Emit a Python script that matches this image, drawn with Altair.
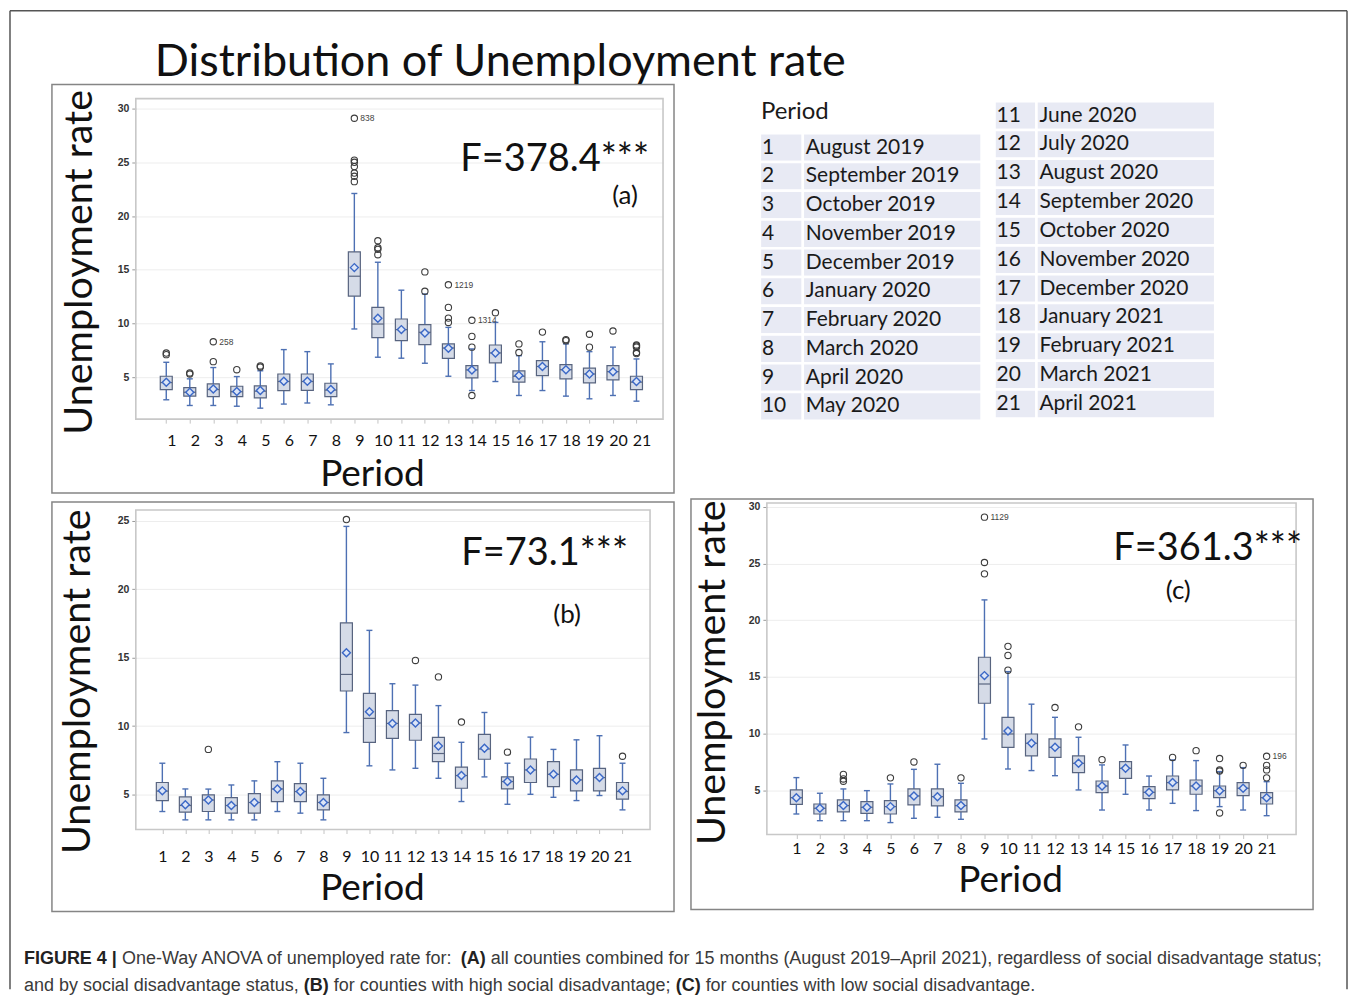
import altair as alt
import pandas as pd

# ---------------- data ----------------
periods = list(range(1, 22))
month_names = ["August 2019", "September 2019", "October 2019", "November 2019",
               "December 2019", "January 2020", "February 2020", "March 2020",
               "April 2020", "May 2020", "June 2020", "July 2020", "August 2020",
               "September 2020", "October 2020", "November 2020", "December 2020",
               "January 2021", "February 2021", "March 2021", "April 2021"]

# Panel (a): all counties
a_wlo = [2.9, 2.37, 2.37, 2.3, 2.12, 2.5, 2.6, 2.43, 9.49, 6.86, 6.77, 6.3, 5.09, 3.76, 4.6, 3.3, 3.76, 3.24, 2.99, 3.3, 2.77]
a_q1 = [3.85, 3.24, 3.2, 3.2, 3.08, 3.76, 3.77, 3.2, 12.55, 8.68, 8.4, 8.03, 6.76, 4.94, 6.33, 4.54, 5.15, 4.85, 4.47, 4.75, 3.85]
a_med = [4.5, 3.6, 3.85, 3.65, 3.7, 4.6, 4.6, 3.8, 14.4, 9.95, 9.43, 9.18, 7.72, 5.68, 7.26, 5.09, 6.0, 5.7, 5.3, 5.52, 4.54]
a_q3 = [5.09, 4.04, 4.38, 4.16, 4.2, 5.3, 5.3, 4.44, 16.67, 11.5, 10.42, 9.9, 8.1, 6.08, 8.0, 5.59, 6.55, 6.18, 5.84, 6.08, 5.09]
a_whi = [6.39, 4.85, 5.9, 5.06, 5.6, 7.57, 7.38, 6.24, 22.1, 15.7, 13.1, 12.74, 9.64, 7.63, 10.1, 7.0, 8.3, 8.1, 7.38, 7.8, 6.7]
a_mean = [4.54, 3.6, 3.9, 3.67, 3.76, 4.63, 4.63, 3.85, 15.2, 10.48, 9.43, 9.12, 7.7, 5.68, 7.26, 5.15, 6.0, 5.7, 5.3, 5.5, 4.6]
a_out_period = [1, 1, 2, 2, 3, 3, 4, 5, 5, 9, 9, 9, 9, 9, 9, 9, 10, 10, 10, 10, 12, 12,
                13, 13, 13, 13, 14, 14, 14, 14, 15, 16, 16, 17, 18, 18, 19, 19, 20,
                21, 21, 21, 21, 21]
a_out_value = [7.1, 7.25, 5.3, 5.4, 6.45, 8.3, 5.7, 5.95, 6.05, 23.2, 23.7, 24.0, 24.6, 25.0, 25.2, 29.1,
               16.4, 16.9, 17.05, 17.7, 13.0, 14.8, 10.1, 10.5, 11.5, 13.6, 7.8, 8.8, 10.3, 3.3,
               11.0, 7.3, 8.1, 9.2, 8.4, 8.5, 7.8, 9.0, 9.3, 7.2, 7.3, 7.8, 7.9, 8.0]
a_lab_period = [9, 3, 13, 14]
a_lab_value = [29.1, 8.3, 13.6, 10.3]
a_lab_text = ["838", "258", "1219", "1314"]

# Panel (b): high social disadvantage
b_wlo = [3.76, 3.15, 3.15, 3.15, 3.15, 3.76, 3.64, 3.15, 9.53, 7.1, 6.8, 6.92, 6.19, 4.49, 6.29, 4.29, 5.02, 4.8, 4.56, 4.93, 3.88]
b_q1 = [4.56, 3.71, 3.76, 3.64, 3.64, 4.49, 4.49, 3.88, 12.57, 8.82, 9.11, 8.97, 7.41, 5.46, 7.58, 5.41, 5.88, 5.58, 5.27, 5.27, 4.66]
b_med = [5.25, 4.2, 4.6, 4.2, 4.42, 5.41, 5.22, 4.42, 13.78, 10.57, 10.2, 10.23, 8.0, 6.39, 8.33, 5.95, 6.8, 6.48, 6.07, 6.24, 5.22]
b_q3 = [5.88, 4.83, 4.98, 4.78, 5.07, 6.0, 5.8, 4.98, 17.55, 12.4, 11.13, 10.86, 9.18, 7.0, 9.4, 6.29, 7.6, 7.4, 6.8, 6.92, 5.88]
b_whi = [7.29, 5.41, 5.4, 5.7, 6.0, 7.4, 7.29, 6.19, 24.6, 17.0, 13.1, 13.0, 11.5, 8.82, 11.0, 7.29, 9.2, 8.3, 9.0, 9.3, 7.29]
b_mean = [5.27, 4.25, 4.6, 4.2, 4.42, 5.41, 5.22, 4.42, 15.37, 11.06, 10.2, 10.23, 8.55, 6.39, 8.38, 5.95, 6.8, 6.48, 6.07, 6.24, 5.27]
b_out_period = [3, 9, 12, 13, 14, 16, 21]
b_out_value = [8.3, 25.1, 14.8, 13.6, 10.3, 8.1, 7.8]
b_lab_period = []
b_lab_value = []
b_lab_text = []

# Panel (c): low social disadvantage
c_wlo = [2.91, 2.32, 2.32, 2.32, 2.15, 2.53, 2.62, 2.44, 9.53, 6.88, 6.74, 6.29, 5.03, 3.26, 4.65, 3.26, 3.85, 3.21, 3.56, 3.26, 2.76]
c_q1 = [3.76, 2.91, 3.09, 2.97, 2.91, 3.71, 3.62, 3.09, 12.68, 8.79, 8.03, 7.91, 6.56, 4.79, 6.06, 4.26, 5.03, 4.65, 4.35, 4.53, 3.79]
c_med = [4.35, 3.41, 3.65, 3.5, 3.56, 4.5, 4.44, 3.65, 14.38, 9.97, 9.15, 8.79, 7.38, 5.38, 6.94, 4.82, 5.68, 5.38, 4.97, 5.18, 4.35]
c_q3 = [5.03, 3.79, 4.15, 4.0, 4.09, 5.12, 5.12, 4.15, 16.74, 11.44, 9.97, 9.53, 8.03, 5.82, 7.53, 5.32, 6.26, 5.91, 5.38, 5.68, 4.79]
c_whi = [6.12, 4.74, 5.12, 4.97, 5.56, 6.85, 7.3, 5.62, 21.8, 15.47, 12.6, 11.44, 9.68, 7.24, 9.0, 6.26, 7.68, 7.62, 6.65, 7.0, 5.76]
c_mean = [4.35, 3.41, 3.65, 3.5, 3.56, 4.5, 4.44, 3.65, 15.12, 10.24, 9.15, 8.79, 7.38, 5.38, 6.94, 4.82, 5.68, 5.38, 4.97, 5.18, 4.35]
c_out_period = [3, 3, 3, 5, 6, 8, 9, 9, 9, 10, 10, 10, 12, 13, 14, 17, 18, 19, 19, 19, 19, 20, 21, 21, 21, 21]
c_out_value = [5.8, 6.0, 6.4, 6.1, 7.5, 6.1, 24.1, 25.1, 29.1, 15.6, 16.9, 17.7, 12.3, 10.6, 7.7, 7.9, 8.5,
               6.7, 6.8, 7.8, 3.0, 7.2, 6.1, 6.8, 7.2, 8.0]
c_lab_period = [9, 21]
c_lab_value = [29.1, 8.0]
c_lab_text = ["1129", "196"]

title_text = "Distribution of Unemployment rate"
f_texts = ["F=378.4***", "F=73.1***", "F=361.3***"]
panel_tags = ["(a)", "(b)", "(c)"]
caption_line1 = [("FIGURE 4 |", True), (" One-Way ANOVA of unemployed rate for: ", False), ("(A)", True),
                 (" all counties combined for 15 months (August 2019\u2013April 2021), regardless of social disadvantage status;", False)]
caption_line2 = [("and by social disadvantage status, ", False), ("(B)", True),
                 (" for counties with high social disadvantage; ", False), ("(C)", True),
                 (" for counties with low social disadvantage.", False)]

# ---------------- styles ----------------
BOX_FILL = "#d5dbe7"
BOX_STROKE = "#58647f"
WHISKER = "#4d70b3"
MEAN_STROKE = "#3b68c6"
MEAN_FILL = "#dce5f7"
OUT_STROKE = "#3c3c3c"
WALL = "#c8c8c8"
FRAME = "#858585"
CELL = "#e8eaf4"

# Arial / Liberation Sans advance widths (per 1000 em), for placing bold caption runs
REG = {' ': 278, '(': 333, ')': 333, ',': 278, '-': 333, '.': 278, ':': 278, ';': 278, '|': 260,
       '\u2013': 556, 'A': 667, 'B': 667, 'C': 722, 'N': 722, 'O': 778, 'V': 667, 'W': 944,
       'a': 556, 'b': 556, 'c': 500, 'd': 556, 'e': 556, 'f': 278, 'g': 556, 'h': 556, 'i': 222,
       'j': 222, 'k': 500, 'l': 222, 'm': 833, 'n': 556, 'o': 556, 'p': 556, 'q': 556, 'r': 333,
       's': 500, 't': 278, 'u': 556, 'v': 500, 'w': 722, 'x': 500, 'y': 500, 'z': 500}
for d in "0123456789":
    REG[d] = 556
BLD = {' ': 278, '(': 333, ')': 333, '|': 280, '4': 556, 'A': 722, 'B': 722, 'C': 722, 'E': 667,
       'F': 611, 'G': 778, 'I': 278, 'R': 722, 'U': 722}


def em_width(s, bold):
    tab = BLD if bold else REG
    return sum(tab.get(ch, 556) for ch in s) / 1000.0


def one(text):
    return alt.Chart(pd.DataFrame({"t": [text]}))


def txt(text, x, y, **kw):
    return one(text).mark_text(**kw).encode(x=alt.value(x), y=alt.value(y), text="t:N")


def frame(x1, x2, y1, y2, color, sw):
    return one("f").mark_rect(fill="transparent", stroke=color, strokeWidth=sw).encode(
        x=alt.value(x1), x2=alt.value(x2), y=alt.value(y1), y2=alt.value(y2))


def hline(x1, x2, y, color, sw):
    return one("l").mark_rule(color=color, strokeWidth=sw).encode(
        x=alt.value(x1), x2=alt.value(x2), y=alt.value(y))


def vline(x, y1, y2, color, sw):
    return one("l").mark_rule(color=color, strokeWidth=sw).encode(
        x=alt.value(x), y=alt.value(y1), y2=alt.value(y2))


def make_panel(wlo, q1, med, q3, whi, mean, op, ov, lp, lv, lt, W, H, xdom, ydom, yvals,
               lab_off, lab_pad, wall, decos):
    sdf = pd.DataFrame(dict(period=periods, wlo=wlo, q1=q1, med=med, q3=q3, whi=whi, mean=mean))
    odf = pd.DataFrame(dict(period=op, value=ov))
    ldf = pd.DataFrame(dict(period=lp, value=lv, label=lt))
    xs = alt.Scale(domain=xdom, nice=False, zero=False)
    ys = alt.Scale(domain=ydom, nice=False, zero=False)
    xax = alt.Axis(values=periods, format="d", labelFont="Lato", labelFontSize=16, labelColor="#111",
                   labelOffset=lab_off, labelPadding=lab_pad, tickSize=4, tickColor="#c4c4c4",
                   domain=False, grid=False, title=None, labelOverlap=False, labelFlush=False)
    yax = alt.Axis(values=yvals, labelFont="Liberation Sans", labelFontSize=10.5, labelFontWeight="bold",
                   labelColor="#333", tickSize=4, tickColor="#9a9a9a", labelPadding=3,
                   domain=False, grid=True, gridColor="#ededed", title=None)

    def X():
        return alt.X("period:Q", scale=xs, axis=xax)

    def Y(f):
        return alt.Y(f + ":Q", scale=ys, axis=yax)

    base = alt.Chart(sdf)
    whisk = base.mark_rule(color=WHISKER, strokeWidth=1.4).encode(x=X(), y=Y("wlo"), y2="whi:Q")
    caplo = base.mark_point(shape="stroke", size=36, color=WHISKER, strokeWidth=1.4, opacity=1).encode(
        x=X(), y=Y("wlo"))
    caphi = base.mark_point(shape="stroke", size=36, color=WHISKER, strokeWidth=1.4, opacity=1).encode(
        x=X(), y=Y("whi"))
    box = base.mark_bar(size=12, fill=BOX_FILL, stroke=BOX_STROKE, strokeWidth=1.2).encode(
        x=X(), y=Y("q1"), y2="q3:Q")
    medl = base.mark_point(shape="stroke", size=144, color=BOX_STROKE, strokeWidth=1.2, opacity=1).encode(
        x=X(), y=Y("med"))
    meanp = base.mark_point(shape="diamond", size=64, filled=True, fill=MEAN_FILL, stroke=MEAN_STROKE,
                            strokeWidth=1.4, opacity=1).encode(x=X(), y=Y("mean"))
    outs = alt.Chart(odf).mark_point(shape="circle", size=40, filled=False, color=OUT_STROKE,
                                     strokeWidth=1.1, opacity=1).encode(x=X(), y=Y("value"))
    layers = [frame(wall[0], wall[1], wall[2], wall[3], WALL, 1.6), whisk, caplo, caphi, box, medl,
              meanp, outs]
    if len(lp):
        labs = alt.Chart(ldf).mark_text(align="left", baseline="middle", dx=6, fontSize=8.5,
                                        font="Liberation Sans", color="#444").encode(
            x=X(), y=Y("value"), text="label:N")
        layers.append(labs)
    layers += decos
    return alt.layer(*layers).properties(width=W, height=H)


def panel_decos(f_text, f_x, f_y, tag, tag_x, tag_y, yt_x, yt_y, pt_x, pt_y, fr):
    return [
        frame(fr[0], fr[1], fr[2], fr[3], FRAME, 1.5),
        txt(f_text, f_x, f_y, align="right", baseline="alphabetic", font="Lato", fontSize=38, color="#111"),
        txt(tag, tag_x, tag_y, align="center", baseline="middle", font="Lato", fontSize=26, color="#111"),
        txt("Unemployment rate", yt_x, yt_y, align="center", baseline="middle", angle=270, font="Lato",
            fontSize=39.5, color="#111"),
        txt("Period", pt_x, pt_y, align="center", baseline="middle", font="Lato", fontSize=37, color="#111"),
    ]


# caption runs
def caption_layers(runs, x0, y, fs):
    out = []
    cx = x0
    for s, bold in runs:
        lead = len(s) - len(s.lstrip(" "))
        core = s.strip(" ")
        px = cx + em_width(" " * lead, bold) * fs
        out.append(txt(core, px, y, align="left", baseline="middle", font="Liberation Sans", fontSize=fs,
                       fontWeight="bold" if bold else "normal", color="#222" if bold else "#3a3a3a"))
        cx += em_width(s, bold) * fs
    return out


cap_total = sum(em_width(s, b) for s, b in caption_line1)
cap_fs = round(1300.0 / cap_total, 2)

# global decorations (relative to panel (a)'s plot origin at page 134, 96)
global_decos = [
    hline(-126, 1213, -88, "#555555", 1.5),
    vline(-126, -88, 892, "#555555", 1.5),
    vline(1213, -88, 892, "#555555", 1.5),
    txt(title_text, 19, -23, align="left", baseline="alphabetic", font="Lato", fontSize=45, color="#111"),
] + caption_layers(caption_line1, -112, 862, cap_fs) + caption_layers(caption_line2, -112, 889, cap_fs)

pa = make_panel(a_wlo, a_q1, a_med, a_q3, a_whi, a_mean, a_out_period, a_out_value,
                a_lab_period, a_lab_value, a_lab_text,
                528, 321, [-0.083, 21.917], [1.1, 30.93], [5, 10, 15, 20, 25, 30], 5, 9.5,
                (0, 528, 0, 321),
                panel_decos(f_texts[0], 514, 73, panel_tags[0], 490, 98, -56, 164, 237, 377,
                            (-84, 539, -14, 395)) + global_decos)

pb = make_panel(b_wlo, b_q1, b_med, b_q3, b_whi, b_mean, b_out_period, b_out_value,
                b_lab_period, b_lab_value, b_lab_text,
                515, 327, [0.064, 21.98], [2.445, 26.31], [5, 10, 15, 20, 25], 0, 15.5,
                (0, 515, 7, 327),
                panel_decos(f_texts[1], 493, 62, panel_tags[1], 432, 112, -58, 179, 237, 387,
                            (-84, 539, -1, 409)))

pc = make_panel(c_wlo, c_q1, c_med, c_q3, c_whi, c_mean, c_out_period, c_out_value,
                c_lab_period, c_lab_value, c_lab_text,
                530, 332, [-0.042, 22.04], [1.1, 30.35], [5, 10, 15, 20, 25, 30], 0, 2.5,
                (0, 530, 0, 332),
                panel_decos(f_texts[2], 536, 57, panel_tags[2], 412, 88, -54, 170, 244, 379,
                            (-76, 547, -4, 407)))


# ---------------- period table ----------------
def table_part(rows, ydom, x_left, x_div, x_right, num_x, mon_x):
    df = pd.DataFrame({"row": rows, "num": [str(r) for r in rows],
                       "month": [month_names[r - 1] for r in rows]})
    ys = alt.Scale(domain=ydom, reverse=True, nice=False, zero=False)
    base = alt.Chart(df).transform_calculate(r0="datum.row - 0.5", r1="datum.row + 0.5")
    c1 = base.mark_rect(fill=CELL, stroke="white", strokeWidth=2.5).encode(
        x=alt.value(x_left), x2=alt.value(x_div), y=alt.Y("r0:Q", scale=ys, axis=None), y2="r1:Q")
    c2 = base.mark_rect(fill=CELL, stroke="white", strokeWidth=2.5).encode(
        x=alt.value(x_div), x2=alt.value(x_right), y=alt.Y("r0:Q", scale=ys, axis=None), y2="r1:Q")
    t1 = base.mark_text(align="left", baseline="middle", font="Lato", fontSize=21, color="#1a1a1a").encode(
        x=alt.value(num_x), y=alt.Y("row:Q", scale=ys, axis=None), text="num:N")
    t2 = base.mark_text(align="left", baseline="middle", font="Lato", fontSize=21, color="#1a1a1a").encode(
        x=alt.value(mon_x), y=alt.Y("row:Q", scale=ys, axis=None), text="month:N")
    return alt.layer(c1, c2, t1, t2)


left_tab = table_part(periods[:10], [-0.705, 10.443], -7, 36, 215, -5, 39)
right_tab = table_part(periods[10:], [10.412, 21.523], 228, 270, 449, 230, 273)
header = txt("Period", -6, 13, align="left", baseline="middle", font="Lato", fontSize=24, color="#1a1a1a")
table = alt.layer(left_tab, right_tab, header).resolve_scale(y="independent").properties(width=450, height=321)

chart = alt.concat(pa, table, pb, pc, columns=2, spacing={"row": 84, "column": 104}, bounds="flush").properties(
    padding=0, background="white").configure_view(stroke="transparent")

chart.save("out.html", embed_options={"renderer": "svg", "actions": False})
